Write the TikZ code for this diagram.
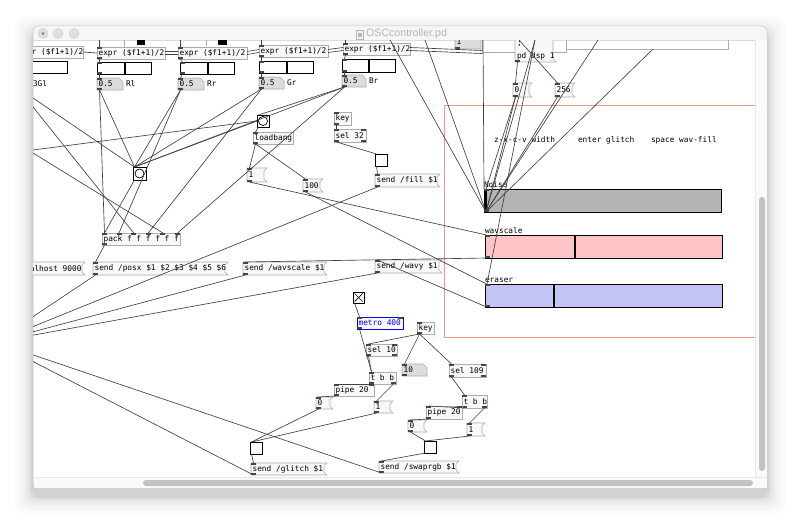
\documentclass[tikz,border=0pt]{standalone}
\usepackage{fontspec}
\setmainfont{Liberation Sans}
\newfontfamily\pdfnt{DejaVu Sans Mono}
\definecolor{lc}{RGB}{58,70,58}
\definecolor{ob}{RGB}{172,172,172}
\definecolor{mfill}{RGB}{248,248,248}
\definecolor{agray}{RGB}{220,220,220}
\definecolor{ioc}{RGB}{62,74,62}
\definecolor{noisef}{RGB}{180,180,180}
\definecolor{wavf}{RGB}{252,196,196}
\definecolor{erf}{RGB}{196,196,244}
\definecolor{combox}{RGB}{250,145,145}
\definecolor{tbar}{RGB}{246,246,246}
\definecolor{thumbc}{RGB}{194,194,194}
\definecolor{titletxt}{RGB}{180,180,180}
\definecolor{pdblue}{RGB}{0,0,240}
\tikzset{
  conn/.style={draw=lc, line width=0.65pt},
  objst/.style={draw=ob, fill=mfill, line width=0.6pt},
  atomst/.style={draw=ob, fill=agray, line width=0.6pt},
  pdt/.style={font=\pdfnt\fontsize{7.8}{8}\selectfont, inner sep=0pt, outer sep=0pt, text=black},
  iol/.style={fill=ioc},
  guist/.style={draw=black, line width=0.9pt},
  frag/.style={draw=ob, line width=0.6pt},
}
\newcommand\PdBox[5]{\node[inner sep=0pt, outer sep=0pt, minimum width={#4-#2}, minimum height={#5-#3}, anchor=north west] (#1) at (#2,#3) {};}
\newcommand\PdTxt[2]{\node[pdt, anchor=west] (#1-t) at ([xshift=1.6pt]#1.west) {#2};}
\newcommand\PdIn[2]{\fill[iol] ([xshift=#2]#1.north west) rectangle ++(5,2);}
\newcommand\PdOut[2]{\fill[iol] ([xshift=#2]#1.south west) rectangle ++(5,-2);}
\newcommand\PdInR[1]{\fill[iol] (#1.north east) rectangle ++(-5,2);}
\newcommand\PdOutR[1]{\fill[iol] (#1.south east) rectangle ++(-5,-2);}
\newcommand\PdObj[6]{\PdBox{#1}{#2}{#3}{#4}{#5}\draw[objst] (#1.north west) rectangle (#1.south east);\PdTxt{#1}{#6}\PdIn{#1}{0pt}\PdOut{#1}{0pt}}
\newcommand\PdMsg[6]{\PdBox{#1}{#2}{#3}{#4}{#5}\draw[objst] (#1.north west) -- (#1.north east) -- ([xshift=-3pt,yshift=-3pt]#1.north east) -- ([xshift=-3pt,yshift=3pt]#1.south east) -- (#1.south east) -- (#1.south west) -- cycle;\PdTxt{#1}{#6}\PdIn{#1}{0pt}\PdOut{#1}{0pt}}
\newcommand\PdAtom[6]{\PdBox{#1}{#2}{#3}{#4}{#5}\draw[atomst] (#1.north west) -- ([xshift=-4pt]#1.north east) -- ([yshift=-4pt]#1.north east) -- (#1.south east) -- (#1.south west) -- cycle;\PdTxt{#1}{#6}\PdIn{#1}{0pt}\PdOut{#1}{0pt}}
\newcommand\PdTgl[5]{\PdBox{#1}{#2}{#3}{#4}{#5}\draw[guist, fill=white] (#1.north west) rectangle (#1.south east);}
\newcommand\PdBng[5]{\PdBox{#1}{#2}{#3}{#4}{#5}\draw[guist, fill=white] (#1.north west) rectangle (#1.south east);\draw[line width=0.7pt, fill=white] (#1.center) circle[radius=4.5pt];}
\newcommand\PdHsl[7]{\PdBox{#1}{#2}{#3}{#4}{#5}\draw[guist, fill=#7] (#1.north west) rectangle (#1.south east);\draw[line width=1.8pt] (#6,#3) -- (#6,#5);}
\newcommand\Cn[4]{\draw[conn] ([xshift=#2]#1.south west) -- ([xshift=#4]#3.north west);}
\begin{document}
\begin{tikzpicture}[x=1pt,y=-1pt]
\useasboundingbox (0,0) rectangle (800,527);
\fill[white] (0,0) rectangle (800,527);
\foreach \s/\o in {18/0.015,14/0.02,10/0.025,7/0.03,4/0.04,2/0.05}{
  \fill[black, opacity=\o, rounded corners=9pt] ({33-\s},{26-\s+8}) rectangle ({767+\s},{488+\s+8});
}
% window
\fill[white, rounded corners=5pt] (33,26) rectangle (767,488);
\begin{scope}
\clip[rounded corners=5pt] (33,26) rectangle (767,488);
\fill[tbar] (33,26) rectangle (767,40);
\fill[black!4] (33,40) rectangle (34,488);
\end{scope}
\draw[black!14] (33,40) -- (767,40);
\draw[black!22, line width=0.5pt, rounded corners=5pt] (33,26) rectangle (767,488);
% traffic lights
\foreach \cx in {43,58,74}{\draw[fill=black!13, draw=black!18, line width=0.5pt] (\cx,33.5) circle[radius=5pt];}
\fill[black!55] (43,33.5) circle[radius=1.3pt];
% title
\draw[titletxt, line width=0.5pt] (356,30) rectangle (363,39);
\fill[titletxt] (357.5,33) rectangle (361.5,37);
\node[font=\fontsize{10.6}{12}\selectfont, text=titletxt, anchor=west, inner sep=0pt] (title) at (366,34) {OSCcontroller.pd};

\begin{scope}
\clip (33,40.5) rectangle (755,477);
% comment canvas
\draw[combox, line width=0.6pt] (444,105) rectangle (755,337);
\node[pdt, anchor=west] (c1) at (494,140) {z-x-c-v width};
\node[pdt, anchor=west] (c2) at (578,140) {enter glitch};
\node[pdt, anchor=west] (c3) at (651,140) {space wav-fill};

% top fragments
\fill[black] (137,40) rectangle (145,45);
\fill[black] (218,40) rectangle (227,45);
\draw[frag] (124,40) -- (124,47);
\draw[frag] (206,40) -- (206,46);
\draw[frag] (482,40) -- (482,54);
\draw[frag] (483,52) -- (566,52) -- (566,40);
\draw[frag] (566,49) -- (728,49) -- (728,40);
\PdAtom{topone}{455}{35}{481}{49}{1}
\PdMsg{dsp}{515}{33}{556}{62}{}
\node[pdt, anchor=west] (dsp-a) at (517,44) {;};
\node[pdt, anchor=west] (dsp-b) at (517,56) {pd dsp 1};

% expr column
\PdObj{exL}{16}{46}{83}{58}{expr (\$f1+1)/2}
\PdObj{ex1}{97}{47}{165}{59}{expr (\$f1+1)/2}
\PdObj{ex2}{178}{47}{247}{59}{expr (\$f1+1)/2}
\PdObj{ex3}{259}{45}{328}{57}{expr (\$f1+1)/2}
\PdObj{ex4}{343}{43}{410}{55}{expr (\$f1+1)/2}
\coordinate (gA1) at (482,50.5);
\coordinate (gA2) at (482,53.5);
\draw[conn] (exL.east) -- (ex1.west);
\foreach \a/\b in {ex1/ex2,ex2/ex3,ex3/ex4}{
  \draw[conn] ([yshift=1.5pt]\a.east) -- ([yshift=1.5pt]\b.west);
  \draw[conn] ([yshift=-1.5pt]\a.east) -- ([yshift=-1.5pt]\b.west);
}
\draw[conn] ([yshift=1.5pt]ex4.east) -- (gA1);
\draw[conn] ([yshift=-1.5pt]ex4.east) -- (gA2);

\PdHsl{slL}{-5}{61}{67}{73}{20}{white}
\PdHsl{sl1}{97}{62}{151}{74}{125}{white}
\PdHsl{sl2}{180}{62}{234}{74}{208}{white}
\PdHsl{sl3}{259}{61}{313}{73}{287}{white}
\PdHsl{sl4}{342}{59}{395}{72}{369}{white}
\foreach \s in {sl1,sl2,sl3,sl4}{\PdIn{\s}{0pt}\PdOut{\s}{0pt}}
\node[pdt, anchor=west] (lGl) at (33,84) {3Gl};
\PdAtom{nRl}{97}{78}{123}{90}{0.5}
\PdAtom{nRr}{178}{78}{204}{90}{0.5}
\PdAtom{nGr}{259}{77}{284}{89}{0.5}
\PdAtom{nBr}{342}{75}{366}{87}{0.5}
\node[pdt, anchor=west] (lRl) at ([xshift=3pt]nRl.east) {Rl};
\node[pdt, anchor=west] (lRr) at ([xshift=3pt]nRr.east) {Rr};
\node[pdt, anchor=west] (lGr) at ([xshift=3pt]nGr.east) {Gr};
\node[pdt, anchor=west] (lBr) at ([xshift=3pt]nBr.east) {Br};

% middle left
\PdBng{bng1}{133}{167}{146}{180}
\PdObj{pack}{102}{233}{180}{245}{pack f f f f f f}
\foreach \x in {14.6pt,29.2pt,43.8pt,58.4pt,73pt}{\PdIn{pack}{\x}}
\PdBox{conn}{-20}{262}{85}{275}
\draw[objst] (conn.north west) -- (conn.north east) -- ([xshift=-3pt,yshift=-3pt]conn.north east) -- ([xshift=-3pt,yshift=3pt]conn.south east) -- (conn.south east) -- (conn.south west) -- cycle;
\node[pdt, anchor=east] (conn-t) at ([xshift=-3.5pt]conn.east) {alhost 9000};
\PdMsg{sPosx}{93}{262}{228}{275}{send /posx \$1 \$2 \$3 \$4 \$5 \$6}
\PdMsg{sWsc}{243}{262}{327}{275}{send /wavscale \$1}
\PdMsg{sWavy}{375}{260}{442}{273}{send /wavy \$1}
\PdBng{bng2}{257}{115}{269}{127}
\PdObj{lb}{253}{132}{293}{144}{loadbang}
\PdMsg{mOne}{247}{168}{267}{182}{1}
\PdMsg{mHun}{303}{179}{323}{192}{100}
\PdObj{key1}{334}{112}{351}{125}{key}
\PdObj{sel32}{334}{129}{366}{142}{sel 32}
\PdInR{sel32}\PdOutR{sel32}
\PdTgl{tFill}{375}{154}{387}{166}
\PdMsg{sFill}{375}{174}{440}{187}{send /fill \$1}

% top right
\PdMsg{mZero}{513}{83}{532}{97}{0}
\PdMsg{m256}{555}{83}{575}{97}{256}

% sliders
\PdHsl{N}{484}{189}{721}{212}{486}{noisef}
\PdHsl{W}{485}{235}{722}{258}{575}{wavf}
\PdHsl{E}{485}{284}{722}{307}{554}{erf}
\foreach \s in {N,W,E}{\PdIn{\s}{0pt}\PdOut{\s}{0pt}}
\node[pdt, anchor=base west] (N-l) at ([yshift=2pt]N.north west) {Noise};
\node[pdt, anchor=base west] (W-l) at ([yshift=2pt]W.north west) {wavscale};
\node[pdt, anchor=base west] (E-l) at ([yshift=2pt]E.north west) {eraser};

% bottom
\PdTgl{tgX}{353}{292}{364}{303}
\draw[line width=0.7pt] ([shift={(1.5pt,-1.5pt)}]tgX.north west) -- ([shift={(-1.5pt,1.5pt)}]tgX.south east);
\draw[line width=0.7pt] ([shift={(-1.5pt,-1.5pt)}]tgX.north east) -- ([shift={(1.5pt,1.5pt)}]tgX.south west);
\PdBox{metro}{357}{317}{403}{329}
\draw[draw=pdblue, fill=mfill, line width=0.8pt] (metro.north west) rectangle (metro.south east);
\node[pdt, text=pdblue, anchor=west] (metro-t) at ([xshift=1.6pt]metro.west) {metro 400};
\PdIn{metro}{0pt}\PdOut{metro}{0pt}\PdInR{metro}
\PdObj{key2}{417}{322}{434}{334}{key}
\PdObj{sel10}{366}{344}{397}{356}{sel 10}
\PdInR{sel10}\PdOutR{sel10}
\PdAtom{n10}{402}{364}{427}{376}{10}
\PdObj{sel109}{449}{364}{486}{377}{sel 109}
\PdInR{sel109}\PdOutR{sel109}
\PdObj{tbb1}{369}{372}{396}{384}{t b b}
\PdOutR{tbb1}
\PdObj{pipe1}{334}{384}{374}{396}{pipe 20}
\PdInR{pipe1}
\PdMsg{m0g}{316}{397}{333}{409}{0}
\PdMsg{m1g}{374}{401}{393}{413}{1}
\PdObj{tbb2}{462}{395}{487}{408}{t b b}
\PdOutR{tbb2}
\PdObj{pipe2}{426}{406}{462}{419}{pipe 20}
\PdInR{pipe2}
\PdMsg{m0s}{408}{420}{427}{432}{0}
\PdMsg{m1s}{467}{423}{485}{436}{1}
\PdTgl{tglG}{250}{442}{262}{454}
\PdTgl{tglS}{424}{441}{436}{453}
\PdMsg{sGl}{251}{463}{327}{475}{send /glitch \$1}
\PdMsg{sSw}{379}{461}{459}{473}{send /swaprgb \$1}

% free ends
\coordinate (E1) at (99.5,40);
\coordinate (E2) at (180.5,40);
\coordinate (E3) at (261.5,40);
\coordinate (E4) at (345.5,40);
\coordinate (L1) at (33,98);
\coordinate (L2) at (33,107);
\coordinate (L3) at (33,150);
\coordinate (L4) at (33,153);
\coordinate (net) at (-5,342);
\coordinate (T1) at (390,40);
\coordinate (T2) at (425,40);
\coordinate (T3) at (483,40);
\coordinate (T4) at (535,40);
\coordinate (T5) at (598,40);
\coordinate (T6) at (653,49);
\coordinate (T7) at (519,40);

% connections top
\draw[conn] (E1) -- ([xshift=2.5pt]ex1.north west);
\draw[conn] (E2) -- ([xshift=2.5pt]ex2.north west);
\draw[conn] (E3) -- ([xshift=2.5pt]ex3.north west);
\draw[conn] (E4) -- ([xshift=2.5pt]ex4.north west);
\Cn{ex1}{2.5pt}{sl1}{2.5pt}\Cn{ex2}{2.5pt}{sl2}{2.5pt}\Cn{ex3}{2.5pt}{sl3}{2.5pt}\Cn{ex4}{2.5pt}{sl4}{2.5pt}
\Cn{sl1}{2.5pt}{nRl}{2.5pt}\Cn{sl2}{2.5pt}{nRr}{2.5pt}\Cn{sl3}{2.5pt}{nGr}{2.5pt}\Cn{sl4}{2.5pt}{nBr}{2.5pt}
% to bang1 and pack
\Cn{nRl}{2.5pt}{pack}{2.5pt}
\Cn{nRl}{2.5pt}{bng1}{1.5pt}
\Cn{nRr}{2.5pt}{bng1}{1.5pt}
\Cn{nRr}{2.5pt}{pack}{17pt}
\Cn{nGr}{2.5pt}{bng1}{1.5pt}
\Cn{nGr}{2.5pt}{pack}{46.3pt}
\Cn{nBr}{2.5pt}{bng1}{1.5pt}
\Cn{nBr}{2.5pt}{pack}{75.5pt}
\Cn{nBr}{2.5pt}{bng2}{1.5pt}
\draw[conn] (L1) -- ([xshift=1.5pt]bng1.north west);
\draw[conn] (L2) -- ([xshift=31.7pt]pack.north west);
\draw[conn] (L3) -- (bng2.west);
\draw[conn] (L4) -- ([xshift=60.9pt]pack.north west);
\draw[conn] ([xshift=1.5pt]bng1.north west) -- (bng2.west);
\Cn{bng1}{1.5pt}{pack}{2.5pt}
\Cn{pack}{2.5pt}{sPosx}{2.5pt}
\Cn{bng2}{1.5pt}{lb}{2.5pt}
\Cn{lb}{2.5pt}{mOne}{2.5pt}
\Cn{lb}{2.5pt}{mHun}{2.5pt}
\Cn{mOne}{2.5pt}{W}{1.5pt}
\Cn{mHun}{2.5pt}{E}{1.5pt}
\Cn{key1}{2.5pt}{sel32}{2.5pt}
\Cn{sel32}{2.5pt}{tFill}{1.5pt}
\Cn{tFill}{1.5pt}{sFill}{2.5pt}
% sends to net
\foreach \s in {sPosx,sFill,sWsc,sWavy,sSw,sGl}{\draw[conn] ([xshift=2.5pt]\s.south west) -- (net);}
\Cn{W}{1.5pt}{sWsc}{2.5pt}
\Cn{E}{1.5pt}{sWavy}{2.5pt}
% noise area
\draw[conn] (T1) -- ([xshift=2pt]N.south west);
\draw[conn] (T2) -- ([xshift=2pt]N.south west);
\draw[conn] (T3) -- ([xshift=0pt]N.north west);
\draw[conn] (T4) -- ([xshift=2pt]N.south west);
\draw[conn] (T4) -- ([xshift=2pt]E.north west);
\draw[conn] (T5) -- ([xshift=2pt]N.south west);
\draw[conn] (T6) -- ([xshift=2pt]N.south west);
\draw[conn] (T7) -- ([xshift=2.5pt]m256.north west);
\Cn{mZero}{2.5pt}{N}{2pt}
\draw[conn] ([xshift=2.5pt]mZero.south west) -- ([xshift=2pt]N.south west);
\draw[conn] ([xshift=2.5pt]m256.south west) -- ([xshift=2pt]N.south west);
\Cn{dsp}{2.5pt}{mZero}{2.5pt}
% bottom connections
\Cn{tgX}{1.5pt}{metro}{2.5pt}
\Cn{metro}{2.5pt}{tbb1}{2.5pt}
\Cn{key2}{2.5pt}{sel10}{2.5pt}
\Cn{key2}{2.5pt}{n10}{2.5pt}
\Cn{key2}{2.5pt}{sel109}{2.5pt}
\Cn{sel10}{2.5pt}{tbb1}{2.5pt}
\Cn{tbb1}{2.5pt}{pipe1}{2.5pt}
\draw[conn] ([xshift=-2.5pt]tbb1.south east) -- ([xshift=2.5pt]m1g.north west);
\Cn{pipe1}{2.5pt}{m0g}{2.5pt}
\Cn{m0g}{2.5pt}{tglG}{1.5pt}
\Cn{m1g}{2.5pt}{tglG}{1.5pt}
\Cn{tglG}{1.5pt}{sGl}{2.5pt}
\Cn{sel109}{2.5pt}{tbb2}{2.5pt}
\Cn{tbb2}{2.5pt}{pipe2}{2.5pt}
\draw[conn] ([xshift=-2.5pt]tbb2.south east) -- ([xshift=2.5pt]m1s.north west);
\Cn{pipe2}{2.5pt}{m0s}{2.5pt}
\Cn{m0s}{2.5pt}{tglS}{1.5pt}
\Cn{m1s}{2.5pt}{tglS}{1.5pt}
\Cn{tglS}{1.5pt}{sSw}{2.5pt}
\end{scope}

% scrollbars
\fill[black!2] (755,40.5) rectangle (766.5,477);
\draw[black!9] (755,40.5) -- (755,477);
\fill[black!2] (33.5,477) rectangle (766.5,487.5);
\draw[black!9] (33.5,477) -- (766.5,477);
\fill[thumbc, rounded corners=3pt] (759,197) rectangle (765,471);
\fill[thumbc, rounded corners=3pt] (143,480) rectangle (753,486);
\end{tikzpicture}
\end{document}
